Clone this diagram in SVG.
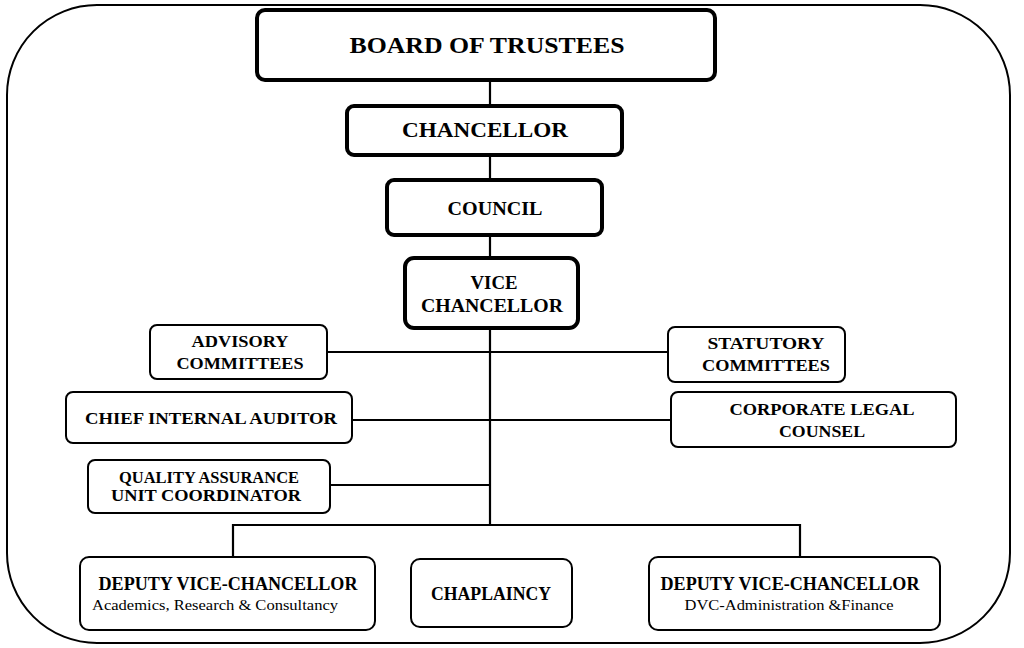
<svg xmlns="http://www.w3.org/2000/svg" width="1024" height="648" viewBox="0 0 1024 648">
<style>
.bg{fill:#fff}
.frame{fill:none;stroke:#000;stroke-width:2}
.thick{fill:#fff;stroke:#000;stroke-width:4}
.thin{fill:#fff;stroke:#000;stroke-width:2}
.line{fill:none;stroke:#000;stroke-width:2.2}
text{font-family:"Liberation Serif","Times New Roman",serif;font-weight:bold;fill:#000;text-anchor:middle;dominant-baseline:central}
.t24{font-size:24px}.t21{font-size:21px}.t19{font-size:19px}.t17{font-size:17px}.t16{font-size:16px}.t13{font-size:14px;font-weight:normal}
</style>
<rect class="bg" width="1024" height="648"/>
<rect class="frame" x="7" y="5" width="1003" height="638" rx="90" ry="90"/>
<g id="connectors">
<line class="line" x1="490" y1="80" x2="490" y2="525"/>
<line class="line" x1="327" y1="352" x2="668" y2="352"/>
<line class="line" x1="352" y1="420" x2="671" y2="420"/>
<line class="line" x1="330" y1="485" x2="490" y2="485"/>
<polyline class="line" points="233,557 233,525 800,525 800,557"/>
</g>
<g id="board"><rect class="thick" x="257" y="10" width="458" height="70" rx="8"/><text class="t24" x="487" y="45" textLength="275" lengthAdjust="spacingAndGlyphs">BOARD OF TRUSTEES</text></g>
<g id="chancellor"><rect class="thick" x="347" y="106" width="275" height="49" rx="7"/><text class="t21" x="485" y="130" textLength="166" lengthAdjust="spacingAndGlyphs">CHANCELLOR</text></g>
<g id="council"><rect class="thick" x="387" y="180" width="215" height="55" rx="7"/><text class="t19" x="495" y="208" textLength="95" lengthAdjust="spacingAndGlyphs">COUNCIL</text></g>
<g id="vc"><rect class="thick" x="405" y="258" width="173" height="70" rx="9"/><text class="t19" x="494" y="282" textLength="47" lengthAdjust="spacingAndGlyphs">VICE</text><text class="t19" x="492" y="305" textLength="142" lengthAdjust="spacingAndGlyphs">CHANCELLOR</text></g>
<g id="advisory"><rect class="thin" x="150" y="325" width="177" height="54" rx="7"/><text class="t17" x="240" y="341" textLength="97" lengthAdjust="spacingAndGlyphs">ADVISORY</text><text class="t17" x="240" y="363" textLength="127" lengthAdjust="spacingAndGlyphs">COMMITTEES</text></g>
<g id="statutory"><rect class="thin" x="668" y="327" width="177" height="55" rx="7"/><text class="t17" x="766" y="343" textLength="117" lengthAdjust="spacingAndGlyphs">STATUTORY</text><text class="t17" x="766" y="365" textLength="128" lengthAdjust="spacingAndGlyphs">COMMITTEES</text></g>
<g id="auditor"><rect class="thin" x="66" y="392" width="286" height="51" rx="7"/><text class="t17" x="211" y="418" textLength="252" lengthAdjust="spacingAndGlyphs">CHIEF INTERNAL AUDITOR</text></g>
<g id="legal"><rect class="thin" x="671" y="392" width="285" height="55" rx="7"/><text class="t17" x="822" y="409" textLength="185" lengthAdjust="spacingAndGlyphs">CORPORATE LEGAL</text><text class="t17" x="822" y="431" textLength="86" lengthAdjust="spacingAndGlyphs">COUNSEL</text></g>
<g id="qa"><rect class="thin" x="88" y="460" width="242" height="53" rx="7"/><text class="t16" x="209" y="477" textLength="180" lengthAdjust="spacingAndGlyphs">QUALITY ASSURANCE</text><text class="t16" x="206" y="495" textLength="190" lengthAdjust="spacingAndGlyphs">UNIT COORDINATOR</text></g>
<g id="dvc-academics"><rect class="thin" x="80" y="557" width="295" height="73" rx="9"/><text class="t19" x="228" y="583" textLength="259" lengthAdjust="spacingAndGlyphs">DEPUTY VICE-CHANCELLOR</text><text class="t13" x="215" y="605" textLength="246" lengthAdjust="spacingAndGlyphs">Academics, Research &amp; Consultancy</text></g>
<g id="chaplaincy"><rect class="thin" x="411" y="559" width="161" height="68" rx="9"/><text class="t19" x="491" y="593" textLength="120" lengthAdjust="spacingAndGlyphs">CHAPLAINCY</text></g>
<g id="dvc-admin"><rect class="thin" x="649" y="557" width="291" height="73" rx="9"/><text class="t19" x="790" y="583" textLength="259" lengthAdjust="spacingAndGlyphs">DEPUTY VICE-CHANCELLOR</text><text class="t13" x="789" y="605" textLength="209" lengthAdjust="spacingAndGlyphs">DVC-Administration &amp;Finance</text></g>
</svg>
